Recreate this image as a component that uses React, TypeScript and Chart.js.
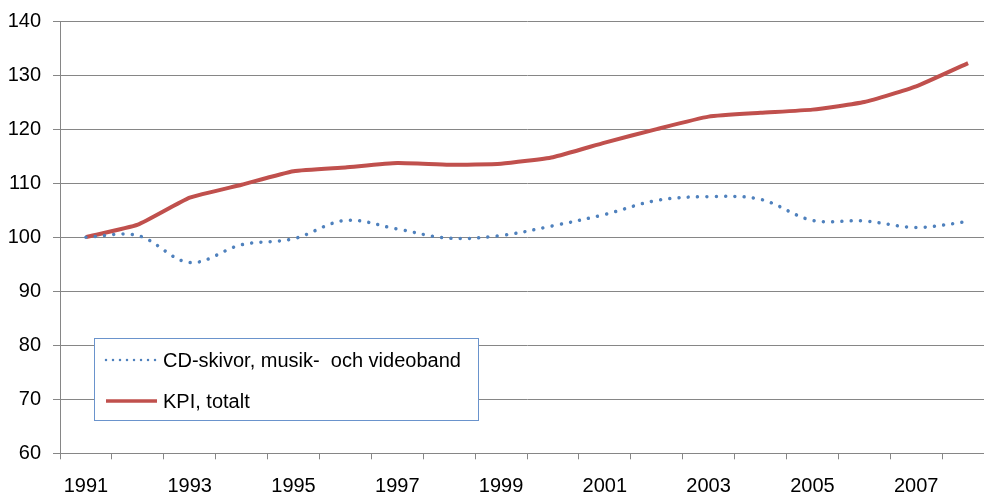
import React, { useEffect, useRef } from "react";
import { Chart, registerables } from "chart.js";

Chart.register(...registerables);

const years = ["1991","1992","1993","1994","1995","1996","1997","1998","1999","2000","2001","2002","2003","2004","2005","2006","2007","2008"];
const cdValues = [100, 100.3, 95.3, 98.6, 99.7, 103.1, 101.5, 99.8, 100.3, 102.1, 104.2, 106.8, 107.5, 107.0, 103.1, 103.0, 101.8, 102.9];
const kpiValues = [100, 102.3, 107.3, 109.7, 112.2, 112.9, 113.7, 113.4, 113.6, 114.8, 117.5, 120.0, 122.3, 123.0, 123.6, 125.0, 127.9, 132.2];
const cdLabel = "CD-skivor, musik-  och videoband";
const kpiLabel = "KPI, totalt";
const yMin = 60;
const yMax = 140;
const yStep = 10;

const FONT = "'Liberation Sans', Arial, sans-serif";
const GRID = "#868686";

const legendPlugin = {
  id: "boxLegend",
  afterDatasetsDraw(chart: any) {
    const ctx = chart.ctx;
    const ds = chart.data.datasets;
    const x0 = 94.5, y0 = 338.5, w = 384, h = 82;
    ctx.save();
    ctx.fillStyle = "#ffffff";
    ctx.fillRect(x0, y0, w, h);
    ctx.strokeStyle = "#6a93cc";
    ctx.lineWidth = 1;
    ctx.strokeRect(x0, y0, w, h);
    const rows = [360, 401];
    ds.forEach((d: any, i: number) => {
      const y = rows[i];
      ctx.beginPath();
      ctx.strokeStyle = d.borderColor;
      if (i === 0) {
        ctx.lineWidth = 2.5;
        ctx.lineCap = "round";
        ctx.setLineDash([0.001, 7]);
      } else {
        ctx.lineWidth = 3.5;
        ctx.lineCap = "butt";
        ctx.setLineDash([]);
      }
      ctx.moveTo(106, y);
      ctx.lineTo(157, y);
      ctx.stroke();
      ctx.setLineDash([]);
      ctx.fillStyle = "#000000";
      ctx.font = "20px " + FONT;
      ctx.textBaseline = "middle";
      ctx.textAlign = "left";
      ctx.fillText(d.label, 163, y + 1);
    });
    ctx.restore();
  },
};

export default function App() {
  const ref = useRef<HTMLCanvasElement | null>(null);
  useEffect(() => {
    if (!ref.current) return;
    const chart = new Chart(ref.current, {
      type: "line",
      data: {
        labels: years,
        datasets: [
          {
            label: cdLabel,
            data: cdValues,
            borderColor: "#4F81BD",
            borderWidth: 3.5,
            borderDash: [0.001, 9.3],
            borderCapStyle: "round",
            pointRadius: 0,
            tension: 0.35,
            fill: false,
          },
          {
            label: kpiLabel,
            data: kpiValues,
            borderColor: "#C0504D",
            borderWidth: 4,
            pointRadius: 0,
            tension: 0.15,
            fill: false,
          },
        ],
      },
      options: {
        responsive: false,
        animation: false,
        layout: { padding: { top: 21, right: 6, left: 0, bottom: 0 } },
        plugins: { legend: { display: false }, tooltip: { enabled: false } },
        scales: {
          x: {
            offset: true,
            grid: {
              offset: true,
              drawOnChartArea: false,
              drawTicks: true,
              tickLength: 6,
              color: GRID,
            },
            border: { color: GRID, width: 1 },
            ticks: {
              autoSkip: false,
              maxRotation: 0,
              color: "#000",
              font: { family: FONT, size: 20 },
              padding: 15,
              callback: (_v: any, i: number) => (i % 2 === 0 ? years[i] : ""),
            },
            afterFit: (s: any) => { s.height = 495 - 453.3; },
          },
          y: {
            min: yMin,
            max: yMax,
            grid: { color: GRID, tickLength: 7, lineWidth: 1 },
            border: { color: GRID, width: 1 },
            ticks: {
              stepSize: yStep,
              color: "#000",
              font: { family: FONT, size: 20, lineHeight: 1.0 },
              padding: 12,
            },
            afterFit: (s: any) => { s.width = 60; s.paddingTop = 0; s.paddingBottom = 0; },
          },
        },
      },
      plugins: [legendPlugin],
    } as any);
    return () => chart.destroy();
  }, []);
  return (
    <div style={{ position: "fixed", left: 0, top: 0, width: 984, height: 495, overflow: "hidden", background: "#fff" }}>
      <canvas ref={ref} width={1000} height={495} style={{ display: "block" }} />
    </div>
  );
}
